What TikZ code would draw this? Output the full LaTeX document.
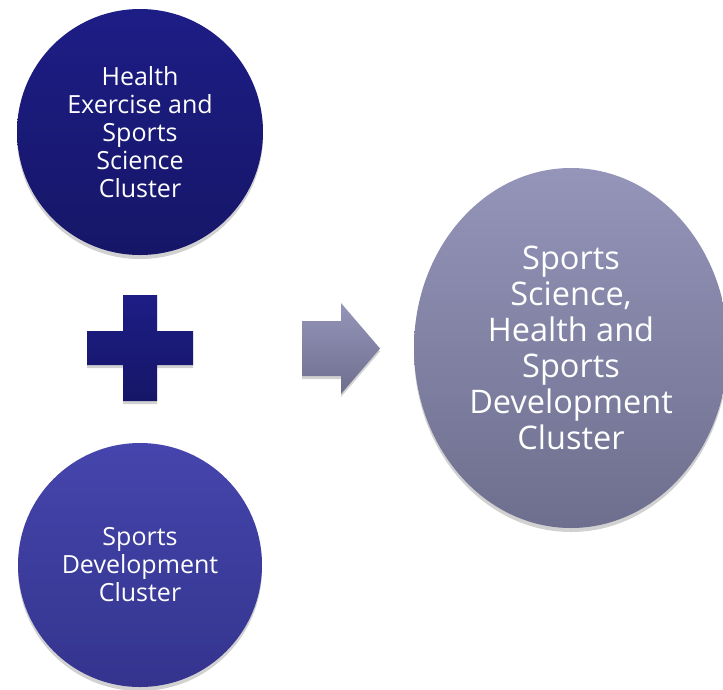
\documentclass[tikz,border=0pt]{standalone}
\usepackage{fontspec}
\setmainfont{Open Sans}
\usetikzlibrary{shadows,shapes.geometric}
\definecolor{navyTop}{HTML}{1D1D86}
\definecolor{navyBot}{HTML}{161668}
\definecolor{blueTop}{HTML}{4545AD}
\definecolor{blueBot}{HTML}{34348E}
\definecolor{greyTop}{HTML}{9595BA}
\definecolor{greyBot}{HTML}{6E6E8E}
\tikzset{
  bubble/.style={circle, inner sep=0pt, align=center, text=white,
    font=\fontsize{25}{28}\selectfont,
    drop shadow={shadow xshift=0pt, shadow yshift=-4pt, opacity=0.18, fill=black}},
}
\begin{document}
\begin{tikzpicture}[x=1pt,y=-1pt]
\useasboundingbox (0,0) rectangle (723,689);
\node[bubble, minimum size=246pt, top color=navyTop, bottom color=navyBot] (hesc) at (140,132)
  {Health\\Exercise and\\Sports\\Science\\Cluster};
\node[bubble, minimum size=244pt, top color=blueTop, bottom color=blueBot] (sdc) at (140,565)
  {Sports\\Development\\Cluster};
\node[ellipse, inner sep=0pt, minimum width=314pt, minimum height=360pt, align=center, text=white,
  font=\fontsize{32.5}{36}\selectfont, top color=greyTop, bottom color=greyBot,
  drop shadow={shadow xshift=0pt, shadow yshift=-4pt, opacity=0.18, fill=black}] (merged) at (571,348)
  {Sports\\Science,\\Health and\\Sports\\Development\\Cluster};
% plus sign
\shade[top color=navyTop, bottom color=navyBot, drop shadow={shadow xshift=0pt, shadow yshift=-3pt, opacity=0.18, fill=black}]
  (123,295) -- (157,295) -- (157,331) -- (193,331) -- (193,365) -- (157,365) -- (157,401)
  -- (123,401) -- (123,365) -- (87,365) -- (87,331) -- (123,331) -- cycle;
% arrow
\shade[top color=greyTop, bottom color=greyBot, drop shadow={shadow xshift=0pt, shadow yshift=-3pt, opacity=0.18, fill=black}]
  (302,321) -- (341,321) -- (341,303) -- (380,348.5) -- (341,394) -- (341,376) -- (302,376) -- cycle;
\end{tikzpicture}
\end{document}
